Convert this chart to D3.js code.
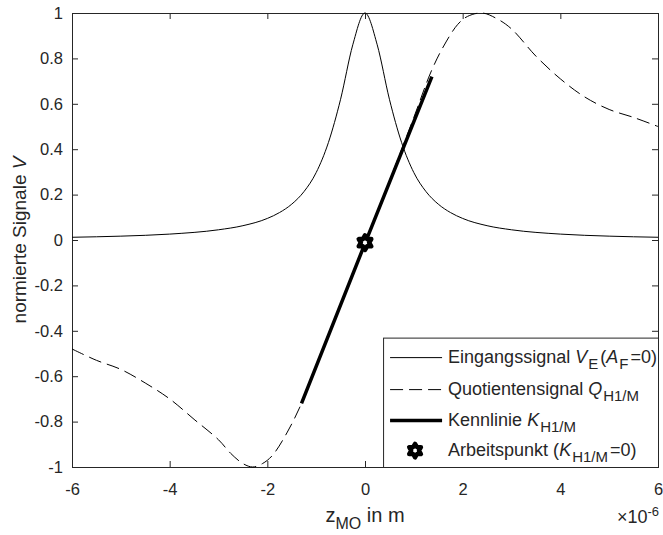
<!DOCTYPE html>
<html>
<head>
<meta charset="utf-8">
<script src="https://cdn.jsdelivr.net/npm/d3@7"></script>
<style>
  body { margin: 0; background: #fff; }
  text { font-family: "Liberation Sans", Arial, Helvetica, sans-serif; fill: #262626; }
</style>
</head>
<body>
<div id="chart"></div>
<script>
// data (x in units of 1e-6 m)
const eingangX = [-6, -5, -4, -3, -2.5, -2, -1.75, -1.5, -1.25, -1, -0.75, -0.5, -0.25, 0,
                  0.25, 0.5, 0.75, 1, 1.25, 1.5, 1.75, 2, 2.5, 3, 4, 5, 6];
const eingangY = [0.012, 0.017, 0.026, 0.045, 0.063, 0.095, 0.121, 0.158, 0.213, 0.297, 0.429, 0.62, 0.86, 1,
                  0.86, 0.62, 0.429, 0.297, 0.213, 0.158, 0.121, 0.095, 0.063, 0.045, 0.026, 0.017, 0.012];

const quotX = [-6, -5.5, -5, -4.5, -4, -3.5, -3, -2.75, -2.5, -2.3, -2.1, -1.9, -1.6, -1.3, -1, -0.5, 0,
               0.5, 1, 1.35, 1.6, 1.9, 2.1, 2.4, 2.7, 3, 3.5, 4, 4.5, 5, 5.5, 6];
const quotY = [-0.48, -0.53, -0.57, -0.63, -0.70, -0.79, -0.88, -0.94, -0.985, -1.0, -0.985, -0.95, -0.85, -0.72, -0.56, -0.29, -0.015,
               0.26, 0.54, 0.74, 0.85, 0.95, 0.985, 1.0, 0.975, 0.93, 0.81, 0.71, 0.63, 0.575, 0.54, 0.50];

const kennX = [-1.3, 0, 1.37];
const kennY = [-0.72, -0.015, 0.72];

const arbeitX = [0];
const arbeitY = [-0.012];

const xTicks = [-6, -4, -2, 0, 2, 4, 6];
const yTicks = [-1, -0.8, -0.6, -0.4, -0.2, 0, 0.2, 0.4, 0.6, 0.8, 1];

// set the dimensions and margins of the graph
const W = 663, H = 535;
const margin = {top: 13, right: 5, bottom: 68, left: 72},
    width = W - margin.left - margin.right,
    height = H - margin.top - margin.bottom;

const svg = d3.select("#chart")
  .append("svg")
    .attr("width", W)
    .attr("height", H)
  .append("g")
    .attr("transform", `translate(${margin.left},${margin.top})`);

const x = d3.scaleLinear().domain([-6, 6]).range([0, width]);
const y = d3.scaleLinear().domain([-1, 1]).range([height, 0]);

const axisColor = "#262626";
const tickFont = "16.5px";

// axes with inward ticks (box style)
function styleAxis(g) {
  g.select(".domain").remove();
  g.selectAll(".tick line").attr("stroke", axisColor);
  g.selectAll(".tick text").style("font-size", tickFont).attr("fill", axisColor);
}
svg.append("g")
    .attr("transform", `translate(0,${height})`)
    .call(d3.axisBottom(x).tickValues(xTicks).tickSizeInner(-6).tickSizeOuter(0).tickPadding(16)
      .tickFormat(d => String(d)))
    .call(styleAxis);
svg.append("g")
    .call(d3.axisTop(x).tickValues(xTicks).tickSizeInner(-6).tickSizeOuter(0).tickFormat(""))
    .call(styleAxis);
svg.append("g")
    .call(d3.axisLeft(y).tickValues(yTicks).tickSizeInner(-6).tickSizeOuter(0).tickPadding(9)
      .tickFormat(d => String(d)))
    .call(styleAxis);
svg.append("g")
    .attr("transform", `translate(${width},0)`)
    .call(d3.axisRight(y).tickValues(yTicks).tickSizeInner(-6).tickSizeOuter(0).tickFormat(""))
    .call(styleAxis);

// box
svg.append("rect")
    .attr("x", 0.5).attr("y", 0.5)
    .attr("width", width).attr("height", height)
    .attr("fill", "none")
    .attr("stroke", axisColor)
    .attr("stroke-width", 1);

// curves
const line = d3.line().x(d => x(d[0])).y(d => y(d[1]));

svg.append("path")
    .datum(d3.zip(eingangX, eingangY))
    .attr("d", line.curve(d3.curveMonotoneX))
    .attr("fill", "none")
    .attr("stroke", "#000")
    .attr("stroke-width", 1);

svg.append("path")
    .datum(d3.zip(quotX, quotY))
    .attr("d", line.curve(d3.curveCatmullRom))
    .attr("fill", "none")
    .attr("stroke", "#000")
    .attr("stroke-width", 1)
    .attr("stroke-dasharray", "13,6");

svg.append("path")
    .datum(d3.zip(kennX, kennY))
    .attr("d", line.curve(d3.curveLinear))
    .attr("fill", "none")
    .attr("stroke", "#000")
    .attr("stroke-width", 3.5);

// hexagram marker
function hexagram(R) {
  const r = R / Math.sqrt(3);
  const pts = [];
  for (let i = 0; i < 12; i++) {
    const a = -Math.PI / 2 + i * Math.PI / 6;
    const rad = i % 2 === 0 ? R : r;
    pts.push([rad * Math.cos(a), rad * Math.sin(a)]);
  }
  return "M" + pts.map(p => p.join(",")).join("L") + "Z";
}

svg.selectAll(".arbeit")
  .data(d3.zip(arbeitX, arbeitY))
  .join("path")
    .attr("class", "arbeit")
    .attr("transform", d => `translate(${x(d[0])},${y(d[1])})`)
    .attr("d", hexagram(7.2))
    .attr("fill", "#fff")
    .attr("stroke", "#000")
    .attr("stroke-width", 4.6)
    .attr("stroke-linejoin", "round");

// legend
const legend = svg.append("g")
    .attr("transform", `translate(${x(0.37)},${y(-0.43)})`);
const lgW = x(6) - x(0.37), lgH = y(-1) - y(-0.43);
legend.append("rect")
    .attr("x", 0.5).attr("y", 0.5)
    .attr("width", lgW).attr("height", lgH)
    .attr("fill", "#fff").attr("stroke", axisColor).attr("stroke-width", 1);

const rows = [
  {y: 20, type: "solid", parts: [["Eingangssignal ", ""], ["V", "i"], ["E", "sub"], ["(", ""], ["A", "i"], ["F", "sub"], ["=0)", ""]]},
  {y: 52, type: "dash", parts: [["Quotientensignal ", ""], ["Q", "i"], ["H1/M", "sub"]]},
  {y: 83, type: "thick", parts: [["Kennlinie ", ""], ["K", "i"], ["H1/M", "sub"]]},
  {y: 113, type: "star", parts: [["Arbeitspunkt (", ""], ["K", "i"], ["H1/M", "sub"], ["=0)", ""]]}
];

rows.forEach(function(row) {
  if (row.type === "star") {
    legend.append("path")
        .attr("transform", `translate(32,${row.y})`)
        .attr("d", hexagram(6.8))
        .attr("fill", "#fff").attr("stroke", "#000").attr("stroke-width", 4.4)
        .attr("stroke-linejoin", "round");
  } else {
    legend.append("line")
        .attr("x1", 7).attr("x2", 59).attr("y1", row.y).attr("y2", row.y)
        .attr("stroke", "#000")
        .attr("stroke-width", row.type === "thick" ? 3.5 : 1)
        .attr("stroke-dasharray", row.type === "dash" ? "13,6" : null);
  }
  const t = legend.append("text")
      .attr("x", 65).attr("y", row.y + 5)
      .style("font-size", "18px");
  let low = false;
  row.parts.forEach(function(p) {
    const s = t.append("tspan").text(p[0]);
    if (p[1] === "i") s.style("font-style", "italic");
    if (p[1] === "sub") {
      s.style("font-size", "15px").attr("dy", 6).attr("dx", 1);
      low = true;
    } else if (low) {
      s.attr("dy", -6).attr("dx", 2);
      low = false;
    }
  });
});

// axis labels
const xl = svg.append("text")
    .attr("x", x(0)).attr("y", height + 55)
    .attr("text-anchor", "middle")
    .style("font-size", "20px");
xl.append("tspan").text("z");
xl.append("tspan").text("MO").style("font-size", "16px").attr("dy", 7);
xl.append("tspan").text(" in m").attr("dy", -7);

const yl = svg.append("text")
    .attr("transform", `translate(${-46},${height / 2}) rotate(-90)`)
    .attr("text-anchor", "middle")
    .style("font-size", "19px");
yl.append("tspan").text("normierte Signale ");
yl.append("tspan").text("V").style("font-style", "italic");

const ex = svg.append("text")
    .attr("x", width + 1).attr("y", height + 56)
    .attr("text-anchor", "end")
    .style("font-size", "18px");
ex.append("tspan").text("\u00d710");
ex.append("tspan").text("-6").style("font-size", "13px").attr("dy", -7);
</script>
</body>
</html>
